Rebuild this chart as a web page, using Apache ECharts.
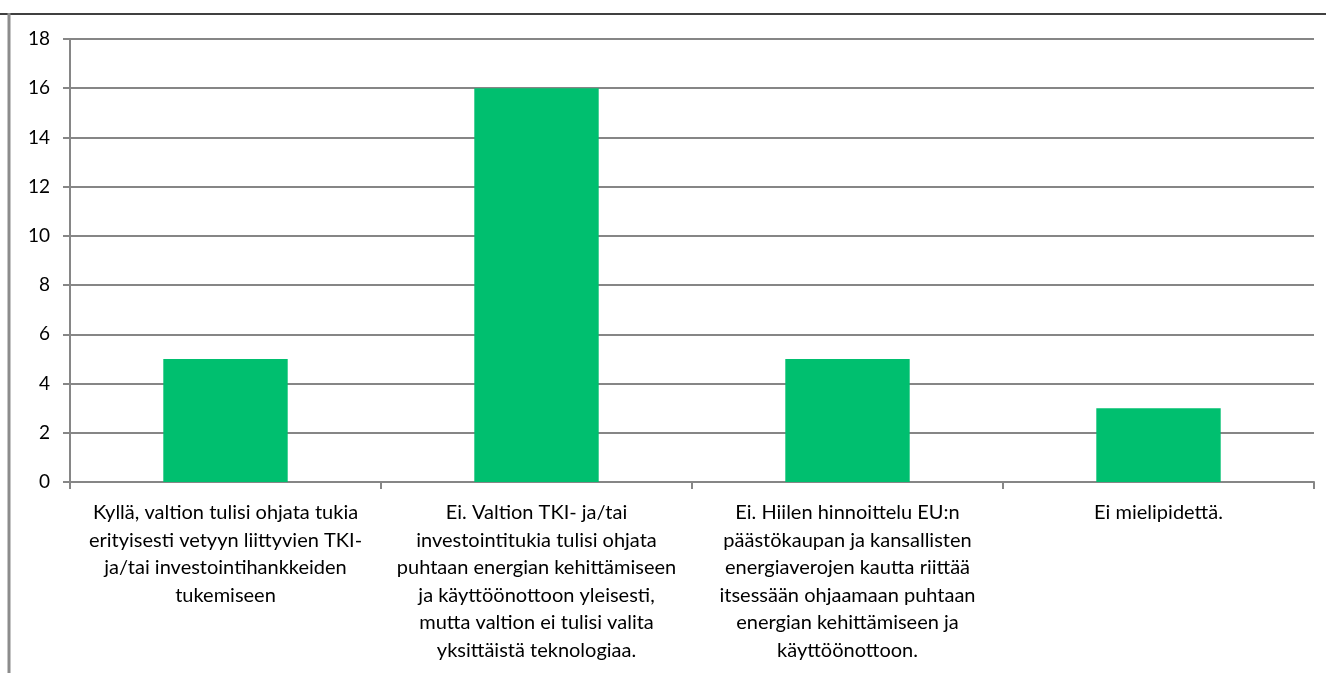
<!DOCTYPE html>
<html>
<head>
<meta charset="utf-8">
<script src="https://cdn.jsdelivr.net/npm/echarts@6/dist/echarts.min.js"></script>
<style>
html,body{margin:0;padding:0;background:#fff;}
#chart{width:1326px;height:673px;}
</style>
</head>
<body>
<div id="chart"></div>
<script>
// vastausvaihtoehdot ja vastausmäärät
var categories=[
  'Kyllä, valtion tulisi ohjata tukia\nerityisesti vetyyn liittyvien TKI-\nja/tai investointihankkeiden\ntukemiseen',
  'Ei. Valtion TKI- ja/tai\ninvestointitukia tulisi ohjata\npuhtaan energian kehittämiseen\nja käyttöönottoon yleisesti,\nmutta valtion ei tulisi valita\nyksittäistä teknologiaa.',
  'Ei. Hiilen hinnoittelu EU:n\npäästökaupan ja kansallisten\nenergiaverojen kautta riittää\nitsessään ohjaamaan puhtaan\nenergian kehittämiseen ja\nkäyttöönottoon.',
  'Ei mielipidettä.'
];
var values=[5,16,5,3];
var yMin=0,yMax=18,yStep=2;

var chart=echarts.init(document.getElementById('chart'));
var font='Lato, "Open Sans", sans-serif';
var option={
  animation:false,
  backgroundColor:'#fff',
  graphic:[
    {type:'line',shape:{x1:0,y1:14,x2:1326,y2:14},style:{stroke:'#404040',lineWidth:2}},
    {type:'line',shape:{x1:9,y1:13,x2:9,y2:673},style:{stroke:'#8c8c8c',lineWidth:3}}
  ],
  grid:{left:70,right:12,top:39,bottom:191},
  xAxis:{
    type:'category',
    data:categories,
    axisLine:{lineStyle:{color:'#868686',width:2}},
    axisTick:{show:true,length:7,lineStyle:{color:'#868686',width:2}},
    axisLabel:{interval:0,color:'#000',fontFamily:font,fontSize:20,lineHeight:27.5,margin:17,align:'center'}
  },
  yAxis:{
    type:'value',
    min:yMin,max:yMax,interval:yStep,
    axisLine:{show:true,lineStyle:{color:'#868686',width:2}},
    axisTick:{show:true,length:7,lineStyle:{color:'#868686',width:2}},
    splitLine:{lineStyle:{color:'#868686',width:2}},
    axisLabel:{color:'#000',fontFamily:font,fontSize:19,margin:20}
  },
  series:[{
    type:'bar',
    data:values,
    barWidth:'40%',
    itemStyle:{color:'#00bf6f'}
  }]
};
chart.setOption(option);
</script>
</body>
</html>
